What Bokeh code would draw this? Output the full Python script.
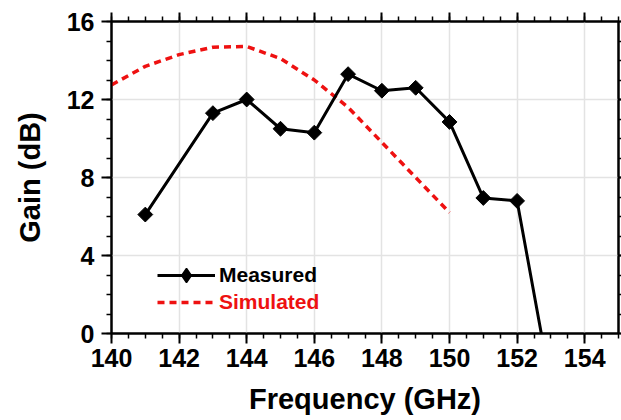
from bokeh.plotting import figure
from bokeh.models import Range1d, LinearAxis, SingleIntervalTicker, Legend, LegendItem
from bokeh.embed import file_html
from bokeh.resources import INLINE
import math

# Data
meas_freq = [141, 143, 144, 145, 146, 147, 148, 149, 150, 151, 152, 153]
meas_gain = [6.1, 11.3, 12.0, 10.5, 10.3, 13.3, 12.45, 12.6, 10.85, 6.95, 6.8, -2.7]

sim_freq = [140, 141, 142, 143, 144, 145, 146, 147, 148, 149, 150]
sim_gain = [12.75, 13.7, 14.3, 14.68, 14.72, 14.1, 13.0, 11.6, 9.8, 8.0, 6.2]

FONT = "Liberation Sans"
RED = "#ee1111"

p = figure(width=621, height=420, output_backend="svg", toolbar_location=None,
           x_range=Range1d(140, 155), y_range=Range1d(0, 16),
           min_border_left=111, min_border_right=3, min_border_top=21, min_border_bottom=87)

p.outline_line_color = "black"
p.outline_line_width = 2

def style_axis(ax, labels=True, tick_out=10, minor_out=5):
    ax.axis_line_width = 2
    ax.axis_line_color = "black"
    ax.major_tick_line_width = 2
    ax.major_tick_line_color = "black"
    ax.minor_tick_line_width = 1.5
    ax.minor_tick_line_color = "black"
    ax.major_tick_in = 0
    ax.major_tick_out = tick_out
    ax.minor_tick_in = 0
    ax.minor_tick_out = minor_out
    ax.major_label_text_font = FONT
    ax.major_label_text_font_style = "bold"
    ax.major_label_text_color = "black"
    ax.major_label_text_font_size = "25px"
    ax.major_label_standoff = 7
    if not labels:
        ax.major_label_text_font_size = "1px"
        ax.major_label_text_color = None
        ax.major_label_standoff = 0

xt = SingleIntervalTicker(interval=2, num_minor_ticks=4)
yt = SingleIntervalTicker(interval=4, num_minor_ticks=4)

p.xaxis.ticker = xt
p.yaxis.ticker = yt
style_axis(p.xaxis[0])
style_axis(p.yaxis[0])
p.xaxis.major_label_standoff = 5
p.xaxis.axis_label = "Frequency (GHz)"
p.yaxis.axis_label = "Gain (dB)"
for ax in (p.xaxis[0], p.yaxis[0]):
    ax.axis_label_text_font = FONT
    ax.axis_label_text_font_style = "bold"
    ax.axis_label_text_font_size = "29px"
    ax.axis_label_text_color = "black"
p.xaxis.axis_label_standoff = 13
p.yaxis.axis_label_standoff = 18

top = LinearAxis(ticker=SingleIntervalTicker(interval=2, num_minor_ticks=4))
style_axis(top, labels=False, tick_out=9, minor_out=5)
p.add_layout(top, "above")
right = LinearAxis(ticker=SingleIntervalTicker(interval=4, num_minor_ticks=4))
style_axis(right, labels=False, tick_out=3, minor_out=3)
p.add_layout(right, "right")

p.xgrid.ticker = xt
p.ygrid.ticker = yt
p.xgrid.grid_line_color = "#e3e3e3"
p.ygrid.grid_line_color = "#e3e3e3"
p.xgrid.grid_line_width = 1.5
p.ygrid.grid_line_width = 1.5

sim = p.line(sim_freq, sim_gain, line_color=RED, line_width=3.5, line_dash="7 5")
ml = p.line(meas_freq, meas_gain, line_color="black", line_width=3)
mk = p.scatter(meas_freq, meas_gain, marker="square", angle=math.pi / 4, size=10.5,
               fill_color="black", line_color="black")
# hidden diamond renderer used only for the legend symbol (legend glyphs ignore angle)
proxy = p.scatter(meas_freq, meas_gain, marker="diamond", size=15, fill_color="black",
                  line_color="black", line_width=1.5, visible=False)

common = dict(padding=0, margin=0, glyph_width=58, label_height=21,
              label_standoff=4, border_line_color=None, background_fill_alpha=0,
              label_text_font=FONT, label_text_font_style="bold",
              label_text_font_size="21px", inactive_fill_alpha=0)
leg1 = Legend(items=[LegendItem(label="Measured", renderers=[ml, proxy])],
              location=(46, 40), glyph_height=36, label_text_color="black", **common)
leg2 = Legend(items=[LegendItem(label="Simulated", renderers=[sim])],
              location=(46, 19), glyph_height=22, label_text_color=RED, **common)
p.add_layout(leg1)
p.add_layout(leg2)

open("out.html", "w").write(file_html(p, INLINE))
